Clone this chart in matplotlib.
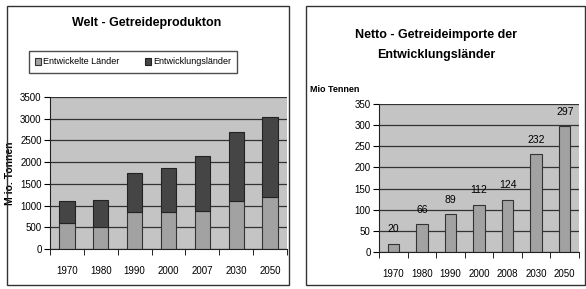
import matplotlib
matplotlib.use('Agg')
import matplotlib.pyplot as plt
from matplotlib.patches import Rectangle
import numpy as np

plt.rcParams['font.family'] = ['Liberation Sans Narrow', 'Liberation Sans', 'DejaVu Sans']

# left chart: world grain production (Mio. Tonnen)
yearsLeft = ['1970', '1980', '1990', '2000', '2007', '2030', '2050']
developed = [600, 500, 850, 850, 880, 1100, 1200]
developing = [500, 620, 890, 1020, 1250, 1590, 1830]

# right chart: net grain imports of developing countries
yearsRight = ['1970', '1980', '1990', '2000', '2008', '2030', '2050']
imports = [20, 66, 89, 112, 124, 232, 297]

W, H = 586, 289
fig = plt.figure(figsize=(W / 100, H / 100), dpi=100)
fig.patch.set_facecolor('white')

def px(x0, y0, x1, y1):
    # pixel box (top-left origin) -> figure fraction rect
    return [x0 / W, 1 - y1 / H, (x1 - x0) / W, (y1 - y0) / H]

# panel frames
for x0, x1 in [(7, 289), (306, 585)]:
    r = px(x0, 6, x1, 285)
    fig.patches.append(Rectangle((r[0], r[1]), r[2], r[3], transform=fig.transFigure,
                                 fill=False, edgecolor='#333333', linewidth=1.0))

def styleAxes(ax, n):
    ax.set_facecolor('#c4c4c4')
    ax.set_axisbelow(True)
    ax.yaxis.grid(True, color='#333333', linewidth=0.9)
    for s in ['top', 'right']:
        ax.spines[s].set_visible(False)
    ax.spines['left'].set_color('#222222')
    ax.spines['bottom'].set_color('#222222')
    ax.set_xlim(-0.5, n - 0.5)
    ax.set_xticks(np.arange(n))
    ax.set_xticks(np.arange(n + 1) - 0.5, minor=True)
    ax.tick_params(axis='x', which='major', length=0, pad=12, labelsize=7)
    ax.tick_params(axis='x', which='minor', length=4, direction='out')
    ax.tick_params(axis='y', length=4, direction='out', labelsize=7, pad=2)

# left chart
axL = fig.add_axes(px(50, 97, 287, 249))
x = np.arange(len(yearsLeft))
axL.bar(x, developed, width=0.45, color='#a2a2a2', edgecolor='#333333', linewidth=0.8,
        label='Entwickelte Länder')
axL.bar(x, developing, width=0.45, bottom=developed, color='#454545', edgecolor='#222222',
        linewidth=0.8, label='Entwicklungsländer')
styleAxes(axL, len(yearsLeft))
axL.set_ylim(0, 3500)
axL.set_yticks(range(0, 3501, 500))
axL.set_xticklabels(yearsLeft)
axL.set_ylabel('M io. Tonnen', fontsize=7.5, fontweight='bold', labelpad=4)
fig.text(147 / W, 1 - 23 / H, 'Welt - Getreideprodukton', ha='center', va='center',
         fontsize=9, fontweight='bold')
fig.legend(loc='center', bbox_to_anchor=((28 + 238) / 2 / W, 1 - 62 / H), ncol=2,
           fontsize=6.5, frameon=True, fancybox=False, edgecolor='#222222',
           handlelength=0.7, handleheight=0.7, handletextpad=0.2, columnspacing=2.8,
           borderpad=0.7)

# right chart
axR = fig.add_axes(px(379, 104, 579, 252))
x = np.arange(len(yearsRight))
bars = axR.bar(x, imports, width=0.4, color='#a2a2a2', edgecolor='#333333', linewidth=0.8)
styleAxes(axR, len(yearsRight))
axR.set_ylim(0, 350)
axR.set_yticks(range(0, 351, 50))
axR.set_xticklabels(yearsRight)
for b, v in zip(bars, imports):
    axR.text(b.get_x() + b.get_width() / 2, v + 22, str(v), ha='center', va='bottom', fontsize=7.5)
fig.text(436 / W, 1 - 45 / H, 'Netto - Getreideimporte der\nEntwicklungsländer', ha='center',
         va='center', fontsize=9, fontweight='bold', linespacing=1.9)
fig.text(310 / W, 1 - 90 / H, 'Mio Tennen', ha='left', va='center', fontsize=6.5, fontweight='bold')

fig.savefig('out.png', dpi=100)
